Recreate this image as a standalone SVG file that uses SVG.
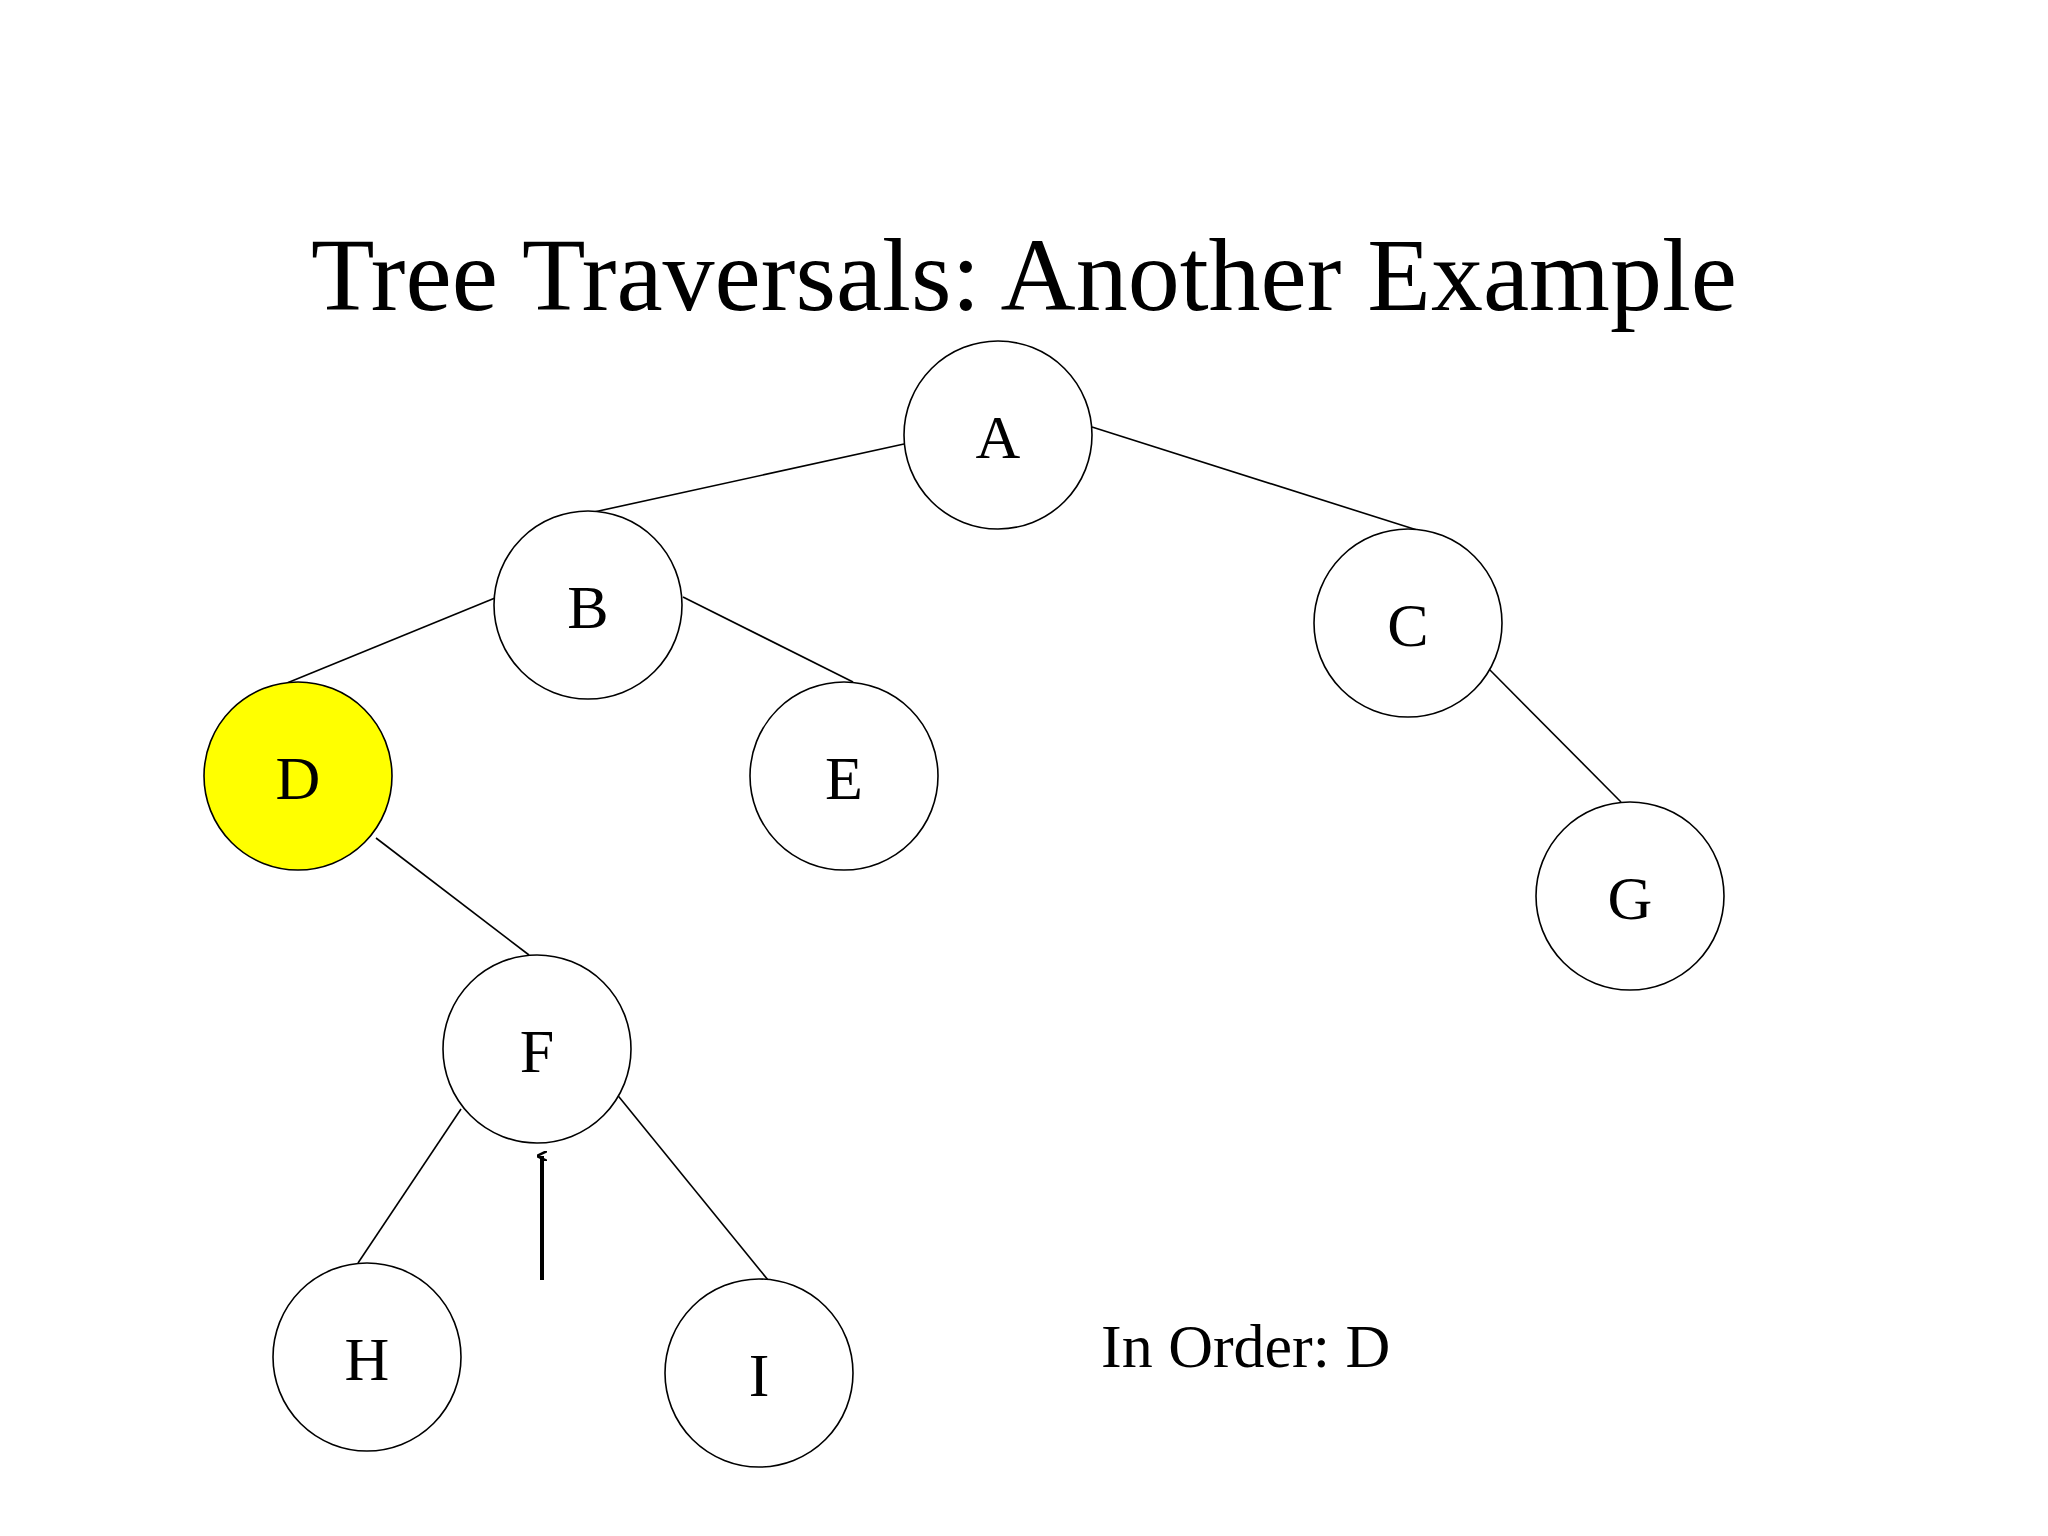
<svg xmlns="http://www.w3.org/2000/svg" width="2048" height="1536" viewBox="0 0 2048 1536">
<style>
.n{fill:#fff;stroke:#000;stroke-width:1.6}
.t{font-family:"Liberation Serif",serif;font-size:62px;text-anchor:middle}
.e line{stroke:#000;stroke-width:1.6}
</style>
<defs><marker id="ah" markerWidth="10" markerHeight="10" refX="5" refY="5" orient="auto" markerUnits="userSpaceOnUse" viewBox="0 0 10 10"><path d="M0,10 L5,0 L10,10" fill="none" stroke="#000" stroke-width="2.5"/></marker></defs>
<rect width="2048" height="1536" fill="#fff"/>
<text x="1024" y="310" font-family="Liberation Serif,serif" font-size="104" text-anchor="middle">Tree Traversals: Another Example</text>
<g class="e" id="connectors">
<line x1="904" y1="444" x2="594" y2="512"/>
<line x1="1092" y1="427" x2="1417" y2="530"/>
<line x1="495" y1="598" x2="287" y2="683"/>
<line x1="683" y1="597" x2="853" y2="682"/>
<line x1="1486" y1="666" x2="1621" y2="802"/>
<line x1="376" y1="838" x2="529" y2="955"/>
<line x1="461" y1="1109" x2="358" y2="1263"/>
<line x1="615" y1="1092" x2="768" y2="1280"/>
<line x1="542" y1="1280" x2="542" y2="1156" style="stroke-width:4" marker-end="url(#ah)"/>
</g>
<g id="A"><circle class="n" cx="998" cy="435" r="94"/><text class="t" x="998" y="458">A</text></g>
<g id="B"><circle class="n" cx="588" cy="605" r="94"/><text class="t" x="588" y="628">B</text></g>
<g id="C"><circle class="n" cx="1408" cy="623" r="94"/><text class="t" x="1408" y="646">C</text></g>
<g id="D"><circle class="n" cx="298" cy="776" r="94" style="fill:#ffff00"/><text class="t" x="298" y="799">D</text></g>
<g id="E"><circle class="n" cx="844" cy="776" r="94"/><text class="t" x="844" y="799">E</text></g>
<g id="G"><circle class="n" cx="1630" cy="896" r="94"/><text class="t" x="1630" y="919">G</text></g>
<g id="F"><circle class="n" cx="537" cy="1049" r="94"/><text class="t" x="537" y="1072">F</text></g>
<g id="H"><circle class="n" cx="367" cy="1357" r="94"/><text class="t" x="367" y="1380">H</text></g>
<g id="I"><circle class="n" cx="759" cy="1373" r="94"/><text class="t" x="759" y="1396">I</text></g>
<text x="1101" y="1367" font-family="Liberation Serif,serif" font-size="62">In Order: D</text>
</svg>
